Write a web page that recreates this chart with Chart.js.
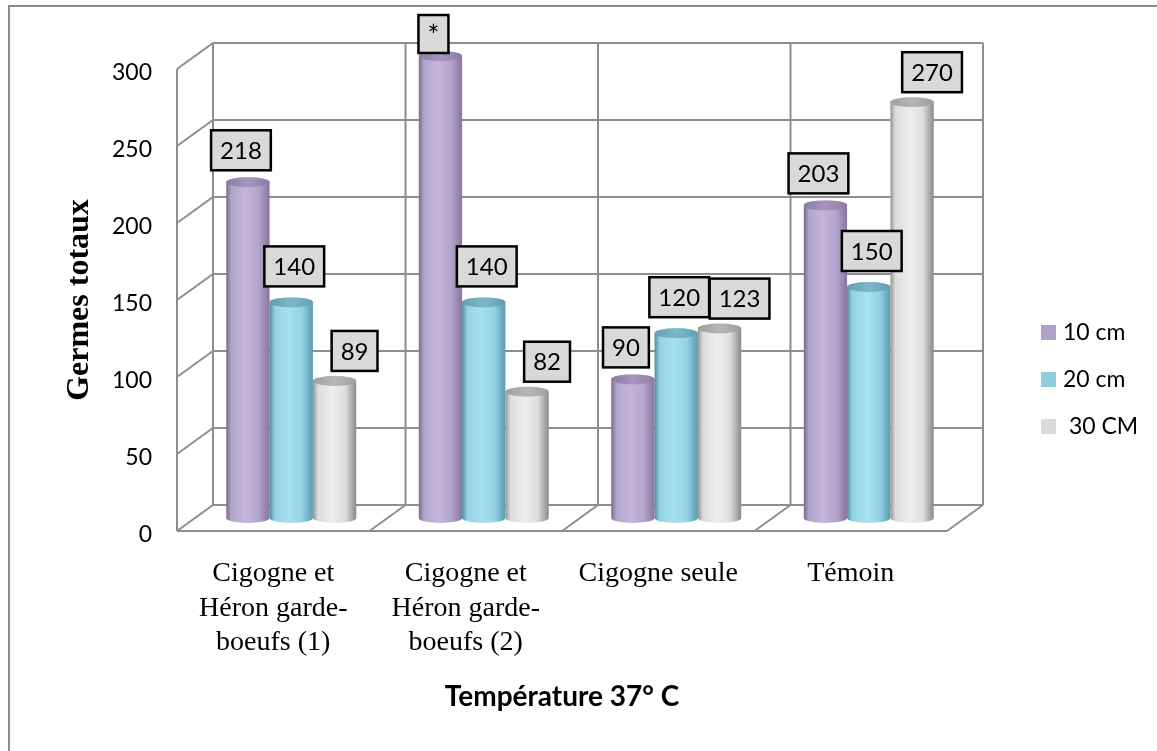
<!DOCTYPE html>
<html>
<head>
<meta charset="utf-8">
<script src="https://cdn.jsdelivr.net/npm/chart.js@4.4.1/dist/chart.umd.min.js"></script>
<style>
  html, body { margin: 0; padding: 0; background: #ffffff; }
  canvas { display: block; }
</style>
</head>
<body>
<canvas id="chart" width="1157" height="751"></canvas>
<script>
// Categories (sampling sites) and series (depth of the sample)
const categories = [
  ['Cigogne et', 'Héron garde-', 'boeufs (1)'],
  ['Cigogne et', 'Héron garde-', 'boeufs (2)'],
  'Cigogne seule',
  'Témoin'
];
const seriesNames = ['10 cm', '20 cm', ' 30 CM'];
const values10 = [218, 300, 90, 203];
const values20 = [140, 140, 120, 150];
const values30 = [89, 82, 123, 270];
// points whose label is shown as an asterisk instead of the count
const starred10 = [false, true, false, false];
const starred20 = [false, false, false, false];
const starred30 = [false, false, false, false];
const yMin = 0, yMax = 300, yStep = 50;

// depth of the 3D box (floor / side wall offset)
const DX = 36, DY = -26;

const legendColors = ['#b1a0c7', '#92cddc', '#d9d9d9'];
const palettes = [
  { l: '#7a6a91', hi: '#c3b5db', mid: '#b3a4cc', r: '#86759e', t0: '#8c7ca4', t1: '#a596bd' },
  { l: '#4b8c9e', hi: '#a8e1f1', mid: '#93d2e3', r: '#5b9bad', t0: '#649fb0', t1: '#7db8c8' },
  { l: '#959595', hi: '#eeeeee', mid: '#dddddd', r: '#8a8a8a', t0: '#9f9f9f', t1: '#b6b6b6' }
];
const labelNudge = [ { dx: -7, dy: -32 }, { dx: 3, dy: -36 }, { dx: 20, dy: -30 } ];

function cylinder(ctx, cx, top, bottom, w, p) {
  const rx = w / 2, ry = 5, x0 = cx - rx;
  const g = ctx.createLinearGradient(x0, 0, x0 + w, 0);
  g.addColorStop(0, p.l);
  g.addColorStop(0.12, p.mid);
  g.addColorStop(0.45, p.hi);
  g.addColorStop(0.75, p.mid);
  g.addColorStop(1, p.r);
  ctx.beginPath();
  ctx.moveTo(x0, top);
  ctx.lineTo(x0, bottom);
  ctx.ellipse(cx, bottom, rx, ry, 0, Math.PI, 0, true);
  ctx.lineTo(x0 + w, top);
  ctx.ellipse(cx, top, rx, ry, 0, 0, Math.PI, true);
  ctx.closePath();
  ctx.fillStyle = g;
  ctx.fill();
  const tg = ctx.createLinearGradient(x0, 0, x0 + w, 0);
  tg.addColorStop(0, p.t0);
  tg.addColorStop(0.5, p.t1);
  tg.addColorStop(1, p.t0);
  ctx.beginPath();
  ctx.ellipse(cx, top, rx, ry, 0, 0, Math.PI * 2);
  ctx.fillStyle = tg;
  ctx.fill();
}

const box3d = {
  id: 'box3d',
  beforeDatasetsDraw(chart) {
    const { ctx, chartArea: { left, right, top, bottom }, scales: { x, y } } = chart;
    ctx.save();
    // outer frame of the chart object
    ctx.strokeStyle = '#8c8c8c';
    ctx.lineWidth = 2;
    ctx.beginPath();
    ctx.moveTo(9, chart.height);
    ctx.lineTo(9, 6);
    ctx.lineTo(chart.width, 6);
    ctx.stroke();

    ctx.strokeStyle = '#8e8e8e';
    ctx.lineWidth = 2;
    ctx.beginPath();
    // horizontal gridlines: side wall diagonal + back wall
    y.ticks.forEach(t => {
      const py = y.getPixelForValue(t.value);
      ctx.moveTo(left, py);
      ctx.lineTo(left + DX, py + DY);
      ctx.lineTo(right + DX, py + DY);
    });
    // front left edge
    ctx.moveTo(left, top);
    ctx.lineTo(left, bottom);
    // floor front edge
    ctx.moveTo(left, bottom);
    ctx.lineTo(right, bottom);
    // category dividers on back wall and floor
    const n = chart.data.labels.length;
    for (let i = 0; i <= n; i++) {
      const bx = x.getPixelForValue(i - 0.5);
      ctx.moveTo(bx + DX, top + DY);
      ctx.lineTo(bx + DX, bottom + DY);
      ctx.moveTo(bx, bottom);
      ctx.lineTo(bx + DX, bottom + DY);
    }
    ctx.stroke();
    ctx.restore();
  },
  beforeDatasetDraw() {
    return false;
  },
  afterDatasetsDraw(chart) {
    const { ctx } = chart;
    const n = chart.data.labels.length;
    const metas = chart.data.datasets.map((d, di) => chart.getDatasetMeta(di));
    ctx.save();
    for (let i = 0; i < n; i++) {
      metas.forEach((meta, di) => {
        const b = meta.data[i].getProps(['x', 'y', 'base', 'width'], true);
        cylinder(ctx, b.x + DX / 2, b.y + DY / 2, b.base + DY / 2, b.width, palettes[di]);
      });
    }
    // value labels
    ctx.textAlign = 'center';
    ctx.textBaseline = 'middle';
    const stars = [starred10, starred20, starred30];
    for (let i = 0; i < n; i++) {
      metas.forEach((meta, di) => {
        const b = meta.data[i].getProps(['x', 'y'], true);
        const ds = chart.data.datasets[di];
        const star = stars[di][i];
        const txt = star ? '*' : String(ds.data[i]);
        ctx.font = star ? '28px Lato' : '24px Lato';
        const cx = b.x + DX / 2 + labelNudge[di].dx;
        const cy = b.y + DY / 2 + (star ? -22 : labelNudge[di].dy);
        const w = Math.max(ctx.measureText(txt).width + 18, 30);
        const h = star ? 38 : 40;
        ctx.fillStyle = '#d9d9d9';
        ctx.fillRect(cx - w / 2, cy - h / 2, w, h);
        ctx.strokeStyle = '#000000';
        ctx.lineWidth = 2.5;
        ctx.strokeRect(cx - w / 2, cy - h / 2, w, h);
        ctx.fillStyle = '#000000';
        ctx.fillText(txt, cx, cy + (star ? 3 : 1));
      });
    }
    ctx.restore();
  },
  afterDraw(chart) {
    const { ctx } = chart;
    ctx.save();
    ctx.font = '23px Lato';
    ctx.textBaseline = 'middle';
    ctx.textAlign = 'left';
    chart.data.datasets.forEach((ds, di) => {
      const cy = 333 + di * 47;
      ctx.fillStyle = ds.backgroundColor;
      ctx.fillRect(1041, cy - 8, 15, 15);
      ctx.fillStyle = '#000000';
      ctx.fillText(ds.label, 1063, cy);
    });
    ctx.restore();
  }
};

new Chart(document.getElementById('chart'), {
  type: 'bar',
  data: {
    labels: categories,
    datasets: [
      { label: seriesNames[0], data: values10, backgroundColor: legendColors[0] },
      { label: seriesNames[1], data: values20, backgroundColor: legendColors[1] },
      { label: seriesNames[2], data: values30, backgroundColor: legendColors[2] }
    ]
  },
  options: {
    responsive: false,
    animation: false,
    events: [],
    categoryPercentage: 0.675,
    barPercentage: 1.0,
    layout: { padding: { top: 69, right: 210, bottom: 0, left: 0 } },
    plugins: { legend: { display: false }, tooltip: { enabled: false } },
    scales: {
      x: {
        grid: { display: false, drawTicks: false },
        border: { display: false },
        ticks: {
          padding: 26, color: '#000', maxRotation: 0, autoSkip: false,
          font: { family: 'Liberation Serif', size: 28, lineHeight: 1.22 }
        },
        title: {
          display: true, text: 'Température 37° C', color: '#000',
          font: { family: 'Lato', size: 28, weight: 'bold' },
          padding: { top: 0, bottom: 37 }
        },
        afterFit(s) { s.height = 220; }
      },
      y: {
        min: yMin, max: yMax,
        grid: { display: false, drawTicks: false },
        border: { display: false },
        ticks: {
          stepSize: yStep, padding: 25, labelOffset: 4, color: '#000',
          font: { family: 'Lato', size: 23 }
        },
        title: {
          display: true, text: 'Germes totaux', color: '#000',
          font: { family: 'Liberation Serif', size: 32, weight: 'bold' },
          padding: { top: 61, bottom: 0 }
        },
        afterFit(s) { s.width = 177; }
      }
    }
  },
  plugins: [box3d]
});
</script>
</body>
</html>
